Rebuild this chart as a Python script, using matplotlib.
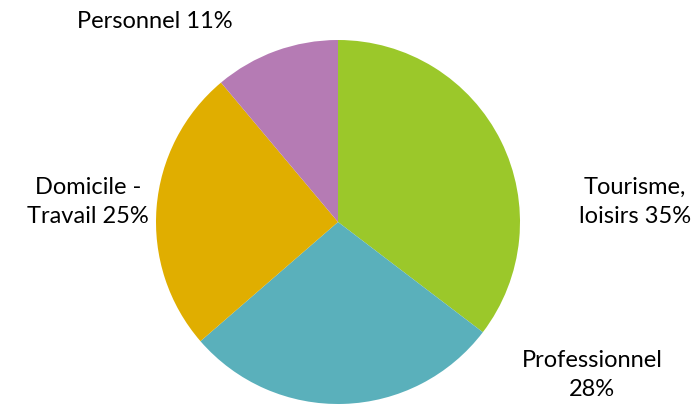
import matplotlib.pyplot as plt

labels = ["Tourisme,\nloisirs 35%", "Professionnel\n28%", "Domicile -\nTravail 25%", "Personnel 11%"]
values = [35, 28, 25, 11]
colors = ["#9BC82A", "#5AB0BB", "#E0AE00", "#B57BB4"]

# label centres in pixel coords (y from top)
label_pos = [(635, 202), (592, 375), (88, 202), (155, 21)]

W, H = 695, 405
fig = plt.figure(figsize=(W / 100, H / 100), dpi=100)
ax = fig.add_axes([0, 0, 1, 1])

ax.pie(values, colors=colors, startangle=90, counterclock=False,
       center=(338, H - 222), radius=182, frame=True,
       wedgeprops=dict(linewidth=0))
ax.set_xlim(0, W)
ax.set_ylim(0, H)
ax.set_aspect("equal")
ax.axis("off")

for lab, (x, y) in zip(labels, label_pos):
    ax.text(x, H - y, lab, ha="center", va="center", fontsize=17,
            family="Lato", color="#000000", linespacing=1.45)

fig.savefig("out.png", dpi=100)
